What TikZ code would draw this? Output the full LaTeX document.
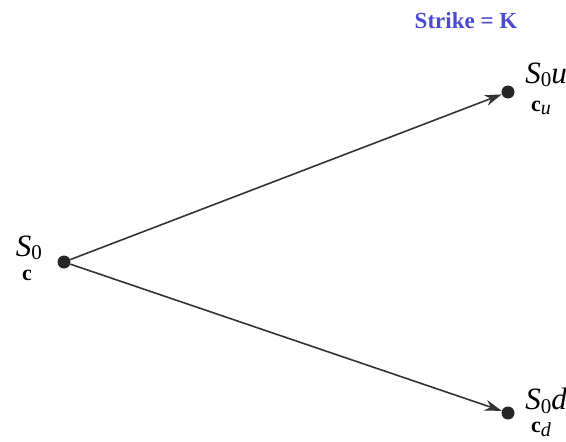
\documentclass[tikz,border=0pt]{standalone}
\usepackage{fontspec}
\setmainfont{Liberation Serif}
\usetikzlibrary{arrows.meta}
\definecolor{strikeblue}{HTML}{4A4AD0}
\definecolor{linegray}{HTML}{333333}
\begin{document}
\begin{tikzpicture}[x=1pt,y=-1pt,
  dot/.style={circle,fill=black!85,inner sep=0pt,minimum size=13pt},
  conn/.style={draw=linegray,line width=1.6pt,-{Stealth[length=17pt,width=11pt]}},
  price/.style={font=\fontsize{31}{34}\selectfont\itshape,inner sep=0pt},
  opt/.style={font=\fontsize{22}{24}\selectfont\bfseries,inner sep=0pt}]
\useasboundingbox (0,0) rectangle (566,442);
\node[dot] (s0) at (64,262) {};
\node[dot] (su) at (508,92) {};
\node[dot] (sd) at (508,413) {};
\draw[conn] (s0) -- (su);
\draw[conn] (s0) -- (sd);
\node[price] (l0) at (29,248) {S\raisebox{-0.25ex}{\fontsize{21}{22}\selectfont\upshape 0}};
\node[opt] (c0) at (27,275) {c};
\node[price] (lu) at (546,75) {S\raisebox{-0.25ex}{\fontsize{21}{22}\selectfont\upshape 0}u};
\node[opt] (cu) at (541,108) {c\raisebox{-0.35ex}{\fontsize{20}{22}\selectfont\itshape\mdseries u}};
\node[price] (ld) at (546,401) {S\raisebox{-0.25ex}{\fontsize{21}{22}\selectfont\upshape 0}d};
\node[opt] (cd) at (541,429) {c\raisebox{-0.4ex}{\fontsize{20}{22}\selectfont\itshape\mdseries d}};
\node[font=\fontsize{23}{25}\selectfont\bfseries,text=strikeblue,inner sep=0pt] (k) at (466,21) {Strike = K};
\end{tikzpicture}
\end{document}
